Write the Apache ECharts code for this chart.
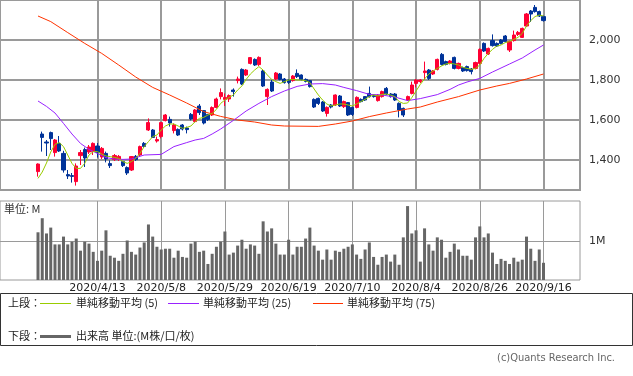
<!DOCTYPE html>
<html><head><meta charset="utf-8">
<script src="https://cdn.jsdelivr.net/npm/echarts@6/dist/echarts.min.js"></script>
<style>html,body{margin:0;padding:0;background:#fff}#c{width:633px;height:376px}</style>
</head><body><div id="c"></div>
<script>
// Trading days (2020) by month
const tradingDays = {
  3:[24,25,26,27,30,31],
  4:[1,2,3,6,7,8,9,10,13,14,15,16,17,20,21,22,23,24,27,28,30],
  5:[1,7,8,11,12,13,14,15,18,19,20,21,22,25,26,27,28,29],
  6:[1,2,3,4,5,8,9,10,11,12,15,16,17,18,19,22,23,24,25,26,29,30],
  7:[1,2,3,6,7,8,9,10,13,14,15,16,17,20,21,22,27,28,29,30,31],
  8:[3,4,5,6,7,11,12,13,14,17,18,19,20,21,24,25,26,27,28,31],
  9:[1,2,3,4,7,8,9,10,11,14,15,16]
};
const categories = [];
for (const m of [3,4,5,6,7,8,9]) for (const d of tradingDays[m]) categories.push('2020/' + m + '/' + d);

const tickLabels = ['2020/4/13','2020/5/8','2020/5/29','2020/6/19','2020/7/10','2020/8/4','2020/8/26','2020/9/16'];
const priceTicks = [1400,1600,1800,2000];
const volumeTicks = [1];

const open = [1342,1530,1490,1537,1437,1483,1433,1327,1322,1292,
 1422,1452,1440,1442,1470,1415,1433,1382,1402,1403,
 1392,1362,1350,1418,1425,1483,1550,1550,1495,1517,
 1597,1603,1547,1553,1575,1560,1628,1592,1670,1647,
 1628,1625,1663,1717,1703,1705,1750,1797,1853,1825,
 1883,1903,1877,1845,1717,1790,1805,1830,1805,1800,
 1797,1833,1825,1803,1797,1703,1708,1690,1633,1675,
 1675,1720,1667,1687,1663,1663,1703,1717,1733,1725,
 1697,1717,1758,1730,1730,1683,1658,1700,1733,1783,
 1792,1837,1850,1830,1853,1928,1892,1883,1913,1858,
 1862,1867,1855,1858,1883,1983,1930,1997,1983,2000,
 2020,1950,1997,2028,2013,2070,2145,2163,2142,2117];
const close = [1380,1513,1485,1507,1500,1445,1350,1320,1318,1370,
 1437,1410,1465,1483,1437,1458,1405,1372,1422,1418,
 1372,1335,1417,1402,1467,1468,1587,1513,1502,1587,
 1625,1585,1575,1525,1555,1552,1605,1650,1637,1585,
 1603,1662,1705,1737,1713,1722,1742,1805,1780,1850,
 1912,1875,1913,1770,1753,1745,1835,1803,1787,1788,
 1820,1817,1803,1793,1767,1665,1683,1645,1663,1665,
 1725,1670,1692,1625,1628,1713,1692,1700,1717,1717,
 1725,1742,1730,1717,1700,1650,1625,1717,1775,1800,
 1800,1845,1808,1845,1903,1878,1878,1895,1858,1883,
 1845,1847,1842,1887,1953,1945,1958,1972,1970,1983,
 1992,1992,2025,2038,2058,2130,2130,2142,2120,2097];
const low = [1317,1442,1420,1450,1417,1440,1337,1305,1287,1272,
 1375,1365,1430,1425,1412,1405,1388,1360,1395,1395,
 1365,1325,1345,1395,1418,1460,1545,1510,1487,1508,
 1593,1567,1533,1520,1548,1533,1598,1588,1625,1578,
 1595,1620,1658,1703,1670,1690,1717,1783,1775,1820,
 1878,1870,1870,1765,1675,1740,1800,1798,1782,1780,
 1792,1810,1798,1788,1762,1660,1675,1640,1617,1658,
 1670,1665,1660,1620,1620,1658,1688,1695,1712,1712,
 1692,1712,1725,1712,1695,1613,1615,1695,1728,1763,
 1785,1800,1800,1825,1848,1873,1873,1878,1853,1853,
 1840,1842,1828,1853,1878,1940,1925,1967,1965,1978,
 1988,1940,1992,2020,2010,2065,2090,2137,2115,2092];
const high = [1383,1542,1500,1542,1505,1520,1446,1350,1335,1383,
 1450,1462,1475,1488,1485,1465,1442,1398,1430,1425,
 1395,1368,1420,1425,1472,1490,1608,1555,1517,1590,
 1630,1617,1583,1558,1580,1567,1635,1655,1680,1650,
 1630,1668,1712,1758,1733,1728,1758,1817,1858,1855,
 1915,1908,1918,1850,1758,1800,1840,1835,1810,1805,
 1825,1853,1828,1808,1800,1708,1712,1695,1668,1680,
 1728,1725,1697,1690,1668,1718,1708,1720,1767,1730,
 1730,1747,1765,1735,1735,1688,1662,1722,1792,1805,
 1805,1892,1855,1850,1907,1935,1897,1900,1917,1887,
 1867,1872,1860,1892,1958,1988,1962,2028,1988,2005,
 2025,1997,2047,2045,2062,2135,2150,2175,2147,2122];
const volume = [1.22,1.58,1.19,1.34,0.91,0.91,1.11,0.91,0.98,1.06,
 0.75,0.98,0.93,0.72,0.49,0.75,1.27,0.62,0.57,0.49,
 0.67,1.01,0.72,0.65,0.83,0.96,1.42,1.11,0.85,0.78,
 0.80,0.80,0.57,0.75,0.59,0.57,0.93,0.98,0.72,0.75,
 0.41,0.67,0.85,0.98,1.24,0.65,0.70,0.88,1.03,0.80,
 0.91,0.88,0.67,1.50,1.24,1.32,0.93,0.65,0.65,1.03,
 0.65,0.85,0.85,1.06,1.34,0.88,0.75,0.52,0.78,0.52,
 0.75,0.72,0.80,0.85,0.91,0.65,0.54,0.78,0.96,0.59,
 0.39,0.59,0.65,0.47,0.65,0.39,1.09,1.89,1.19,1.27,
 0.47,1.32,0.91,0.75,1.09,1.03,0.57,0.72,0.93,0.78,
 0.62,0.62,0.52,1.09,1.37,1.09,1.19,0.70,0.41,0.54,
 0.49,0.41,0.57,0.47,0.52,1.11,0.80,0.49,0.78,0.44];
const ma5 = [1308,1340,1385,1440,1478,1487,1467,1425,1383,1358,
 1358,1383,1425,1442,1442,1430,1420,1417,1413,1408,
 1392,1383,1392,1408,1433,1467,1492,1517,1525,1550,
 1570,1580,1580,1570,1558,1563,1570,1592,1608,1613,
 1625,1633,1653,1683,1700,1713,1725,1750,1770,1803,
 1830,1850,1867,1850,1825,1803,1792,1783,1792,1800,
 1803,1800,1800,1797,1787,1755,1725,1700,1680,1670,
 1675,1680,1680,1675,1670,1680,1692,1703,1717,1725,
 1720,1728,1730,1725,1717,1692,1683,1685,1712,1745,
 1778,1805,1830,1845,1858,1870,1880,1883,1880,1875,
 1863,1858,1853,1858,1875,1908,1933,1953,1970,1975,
 1987,1992,2003,2013,2033,2070,2097,2117,2125,2120];
// [candle index, value] readings
const ma25 = [[0,1695],[2,1668],[4,1635],[6,1583],[8,1530],[10,1483],[12,1453],[14,1433],[16,1412],[18,1405],
 [20,1403],[22,1405],[25,1425],[29,1428],[32,1467],[35,1487],[37,1500],[39,1508],[41,1530],[43,1555],
 [46,1598],[49,1645],[52,1683],[55,1717],[58,1745],[61,1768],[64,1780],[67,1782],[70,1775],[72,1763],
 [75,1747],[78,1728],[81,1725],[84,1715],[87,1697],[90,1707],[94,1727],[97,1753],[99,1775],[101,1790],
 [104,1808],[107,1840],[111,1880],[114,1910],[117,1950],[119,1975]];
const ma75 = [[0,2120],[3,2092],[7,2037],[11,1983],[15,1933],[19,1875],[23,1815],[27,1763],[31,1725],[35,1685],
 [39,1642],[43,1618],[47,1600],[51,1590],[55,1575],[58,1570],[66,1568],[70,1580],[74,1595],[78,1617],
 [82,1635],[87,1655],[90,1665],[94,1690],[99,1717],[104,1750],[108,1770],[111,1783],[115,1805],[119,1830]];

const candles = open.map((o, i) => [o, close[i], low[i], high[i]]);
const isTick = (idx, val) => tickLabels.indexOf(val) >= 0;

const chart = echarts.init(document.getElementById('c'), null, {renderer: 'canvas'});
const GRID = '#9a9a9a';
const txt = '#333';
chart.setOption({
  animation: false,
  backgroundColor: '#fff',
  grid: [
    {left: 0, top: 0, width: 580, height: 190, show: true, borderColor: GRID, borderWidth: 2, backgroundColor: 'transparent'},
    {left: 38, top: 0, width: 505.5, height: 190},
    {left: 0, top: 201, width: 580, height: 79, show: true, borderColor: GRID, borderWidth: 1, backgroundColor: 'transparent'},
    {left: 38, top: 201, width: 505.5, height: 79}
  ],
  xAxis: [
    {gridIndex: 0, type: 'value', min: 0, max: 1, show: false},
    {gridIndex: 1, type: 'category', data: categories, boundaryGap: false,
     axisLine: {show: false}, axisTick: {show: false}, axisLabel: {show: false},
     splitLine: {show: true, interval: isTick, lineStyle: {color: GRID, width: 2}}},
    {gridIndex: 2, type: 'value', min: 0, max: 1, show: false},
    {gridIndex: 3, type: 'category', data: categories, boundaryGap: false,
     axisLine: {show: false}, axisTick: {show: false},
     axisLabel: {show: true, interval: isTick, margin: 3, fontSize: 11, color: '#222', fontFamily: 'DejaVu Sans'},
     splitLine: {show: true, interval: isTick, lineStyle: {color: GRID, width: 1}}}
  ],
  yAxis: [
    {gridIndex: 0, type: 'value', min: 1250, max: 2200, position: 'right',
     axisLine: {show: false}, axisTick: {show: false, customValues: priceTicks},
     axisLabel: {customValues: priceTicks, margin: 9, fontSize: 11, color: txt, fontFamily: 'DejaVu Sans',
       formatter: v => v.toLocaleString('en-US')},
     splitLine: {show: true, lineStyle: {color: GRID, width: 2}}},
    {gridIndex: 1, type: 'value', min: 1250, max: 2200, show: false, splitLine: {show: false}},
    {gridIndex: 2, type: 'value', min: 0, max: 2.02, position: 'right',
     axisLine: {show: false}, axisTick: {show: false, customValues: volumeTicks},
     axisLabel: {customValues: volumeTicks, margin: 9, fontSize: 11, color: txt, fontFamily: 'DejaVu Sans',
       formatter: v => v + 'M'},
     splitLine: {show: true, lineStyle: {color: GRID, width: 1}}},
    {gridIndex: 3, type: 'value', min: 0, max: 2.02, show: false, splitLine: {show: false}}
  ],
  series: [
    {type: 'candlestick', xAxisIndex: 1, yAxisIndex: 1, data: candles, barWidth: 3.6, clip: false, z: 2,
     itemStyle: {color: '#ff0033', color0: '#003399', borderColor: '#ff0033', borderColor0: '#003399', borderWidth: 1}},
    {type: 'line', xAxisIndex: 1, yAxisIndex: 1, data: ma75, symbol: 'none', z: 3,
     lineStyle: {color: '#ff3300', width: 1}},
    {type: 'line', xAxisIndex: 1, yAxisIndex: 1, data: ma25, symbol: 'none', z: 3,
     lineStyle: {color: '#9922ff', width: 1}},
    {type: 'line', xAxisIndex: 1, yAxisIndex: 1, data: ma5, symbol: 'none', z: 4,
     lineStyle: {color: '#99cc00', width: 1}},
    {type: 'bar', xAxisIndex: 3, yAxisIndex: 3, data: volume, barWidth: 3,
     itemStyle: {color: '#666666'}}
  ],
  graphic: [
    {type: 'text', left: 4, top: 203, style: {text: '単位: M', fontSize: 11, fill: txt, fontFamily: 'Noto Sans CJK JP'}},
    {type: 'rect', shape: {x: 0.5, y: 293.5, width: 632, height: 52}, style: {fill: 'none', stroke: '#333', lineWidth: 1}},
    {type: 'text', x: 8, y: 303, style: {text: '上段：', fontSize: 11, fill: '#222', fontFamily: 'Noto Sans CJK JP', verticalAlign: 'middle'}},
    {type: 'line', shape: {x1: 40, y1: 303.5, x2: 71, y2: 303.5}, style: {stroke: '#99cc00', lineWidth: 1}},
    {type: 'text', x: 76, y: 303, style: {text: '単純移動平均 (5)', fontSize: 11, fill: '#222', fontFamily: 'Noto Sans CJK JP', verticalAlign: 'middle'}},
    {type: 'line', shape: {x1: 168, y1: 303.5, x2: 199, y2: 303.5}, style: {stroke: '#9922ff', lineWidth: 1}},
    {type: 'text', x: 203, y: 303, style: {text: '単純移動平均 (25)', fontSize: 11, fill: '#222', fontFamily: 'Noto Sans CJK JP', verticalAlign: 'middle'}},
    {type: 'line', shape: {x1: 313, y1: 303.5, x2: 343, y2: 303.5}, style: {stroke: '#ff3300', lineWidth: 1}},
    {type: 'text', x: 347, y: 303, style: {text: '単純移動平均 (75)', fontSize: 11, fill: '#222', fontFamily: 'Noto Sans CJK JP', verticalAlign: 'middle'}},
    {type: 'text', x: 8, y: 336, style: {text: '下段：', fontSize: 11, fill: '#222', fontFamily: 'Noto Sans CJK JP', verticalAlign: 'middle'}},
    {type: 'line', shape: {x1: 40, y1: 336.5, x2: 71, y2: 336.5}, style: {stroke: '#666', lineWidth: 3}},
    {type: 'text', x: 76, y: 336, style: {text: '出来高 単位:(M株/口/枚)', fontSize: 11, fill: '#222', fontFamily: 'Noto Sans CJK JP', verticalAlign: 'middle'}},
    {type: 'text', x: 615, y: 358, style: {text: '(c)Quants Research Inc.', fontSize: 11, fill: '#666', fontFamily: 'DejaVu Sans Condensed', align: 'right', verticalAlign: 'middle'}}
  ]
});
</script></body></html>
